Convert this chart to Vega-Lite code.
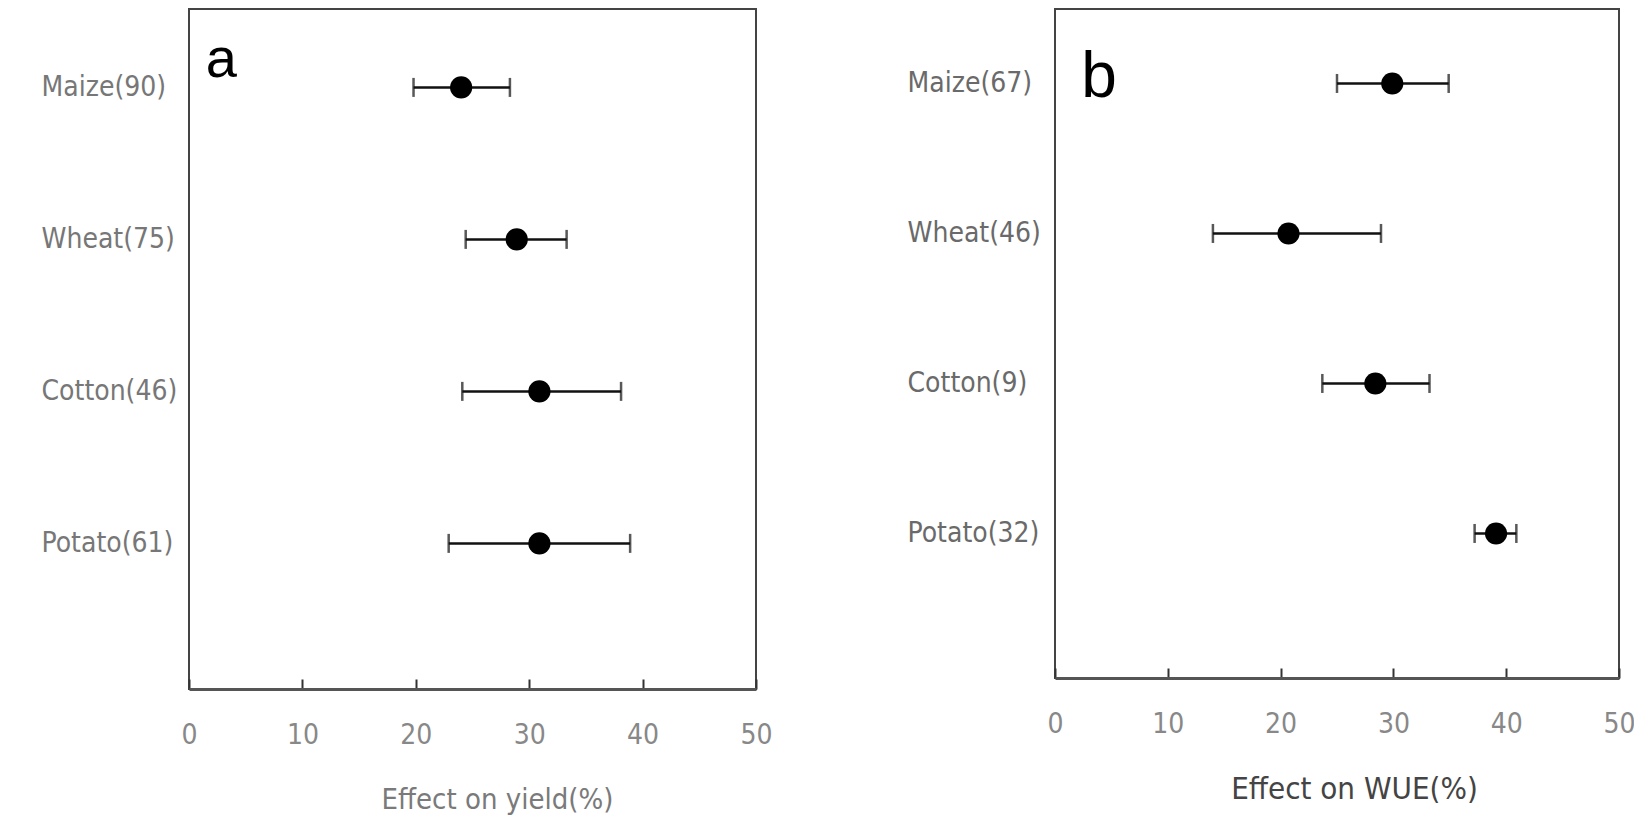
{
  "$schema": "https://vega.github.io/schema/vega-lite/v6.json",
  "background": "white",
  "padding": {"left": 40, "top": 8, "right": 0, "bottom": 0},
  "spacing": 132,
  "datasets": {
    "yield": [
      {"crop": "Maize(90)", "mean": 24.0, "low": 19.8, "high": 28.3},
      {"crop": "Wheat(75)", "mean": 28.9, "low": 24.4, "high": 33.3},
      {"crop": "Cotton(46)", "mean": 30.9, "low": 24.1, "high": 38.1},
      {"crop": "Potato(61)", "mean": 30.9, "low": 22.9, "high": 38.9}
    ],
    "wue": [
      {"crop": "Maize(67)", "mean": 29.9, "low": 25.0, "high": 34.9},
      {"crop": "Wheat(46)", "mean": 20.7, "low": 14.0, "high": 28.9},
      {"crop": "Cotton(9)", "mean": 28.4, "low": 23.7, "high": 33.2},
      {"crop": "Potato(32)", "mean": 39.1, "low": 37.2, "high": 40.9}
    ]
  },
  "hconcat": [
    {
      "width": 567,
      "height": 680,
      "data": {"name": "yield"},
      "encoding": {
        "y": {
          "field": "crop", "type": "nominal",
          "scale": {"type": "point", "padding": 0.737, "align": 0.35,
                    "domain": ["Maize(90)", "Wheat(75)", "Cotton(46)", "Potato(61)"]},
          "axis": {"title": null, "labelColor": "#777"}
        }
      },
      "layer": [
        {
          "mark": {"type": "rule", "color": "#111", "strokeWidth": 2.5},
          "encoding": {
            "x": {"field": "low", "type": "quantitative",
                  "scale": {"domain": [0, 50], "nice": false},
                  "axis": {"title": "Effect on yield(%)", "titleColor": "#7a7a7a", "titleX": 308,
                           "values": [0, 10, 20, 30, 40, 50], "titleFontSize": 29}},
            "x2": {"field": "high"}
          }
        },
        {
          "mark": {"type": "tick", "color": "#111", "thickness": 2.5, "size": 19, "orient": "vertical"},
          "encoding": {"x": {"field": "low", "type": "quantitative"}}
        },
        {
          "mark": {"type": "tick", "color": "#111", "thickness": 2.5, "size": 19, "orient": "vertical"},
          "encoding": {"x": {"field": "high", "type": "quantitative"}}
        },
        {
          "mark": {"type": "circle", "color": "#000", "opacity": 1, "size": 490},
          "encoding": {"x": {"field": "mean", "type": "quantitative"}}
        },
        {
          "data": {"values": [{"label": "a", "crop": "Maize(90)", "pos": 2.85}]},
          "mark": {"type": "text", "font": "Liberation Sans", "fontSize": 56, "baseline": "alphabetic", "align": "center", "dy": -10, "color": "#000"},
          "encoding": {
            "x": {"field": "pos", "type": "quantitative"},
            "text": {"field": "label"}
          }
        }
      ]
    },
    {
      "width": 564,
      "height": 669,
      "data": {"name": "wue"},
      "encoding": {
        "y": {
          "field": "crop", "type": "nominal",
          "scale": {"type": "point", "padding": 0.73, "align": 0.34,
                    "domain": ["Maize(67)", "Wheat(46)", "Cotton(9)", "Potato(32)"]},
          "axis": {"title": null, "labelColor": "#6a6a6a"}
        }
      },
      "layer": [
        {
          "mark": {"type": "rule", "color": "#111", "strokeWidth": 2.5},
          "encoding": {
            "x": {"field": "low", "type": "quantitative",
                  "scale": {"domain": [0, 50], "nice": false},
                  "axis": {"title": "Effect on WUE(%)", "titleColor": "#444", "titleX": 299,
                           "titleFontSize": 31, "values": [0, 10, 20, 30, 40, 50]}},
            "x2": {"field": "high"}
          }
        },
        {
          "mark": {"type": "tick", "color": "#111", "thickness": 2.5, "size": 19, "orient": "vertical"},
          "encoding": {"x": {"field": "low", "type": "quantitative"}}
        },
        {
          "mark": {"type": "tick", "color": "#111", "thickness": 2.5, "size": 19, "orient": "vertical"},
          "encoding": {"x": {"field": "high", "type": "quantitative"}}
        },
        {
          "mark": {"type": "circle", "color": "#000", "opacity": 1, "size": 490},
          "encoding": {"x": {"field": "mean", "type": "quantitative"}}
        },
        {
          "data": {"values": [{"label": "b", "crop": "Maize(67)", "pos": 3.9}]},
          "mark": {"type": "text", "font": "Liberation Sans", "fontSize": 64, "baseline": "alphabetic", "align": "center", "dy": 14, "color": "#000"},
          "encoding": {
            "x": {"field": "pos", "type": "quantitative"},
            "text": {"field": "label"}
          }
        }
      ]
    }
  ],
  "config": {
    "view": {"stroke": "#444", "strokeWidth": 2},
    "axisY": {
      "ticks": false, "tickSize": 0, "domain": false, "grid": false,
      "labelAlign": "left", "labelPadding": 148, "minExtent": 148, "maxExtent": 148,
      "labelFont": "Liberation Sans Narrow, DejaVu Sans Condensed, sans-serif", "labelFontSize": 28
    },
    "axisX": {
      "grid": false,
      "tickSize": -10, "tickColor": "#333", "tickWidth": 2,
      "domainColor": "#555", "domainWidth": 3,
      "labelColor": "#888", "labelFont": "Liberation Sans Narrow, DejaVu Sans Condensed, sans-serif",
      "labelFontSize": 28, "labelPadding": 42, "labelFlush": false,
      "titleFont": "Liberation Sans Narrow, DejaVu Sans Condensed, sans-serif",
      "titleFontWeight": "normal", "titlePadding": 36
    }
  }
}
